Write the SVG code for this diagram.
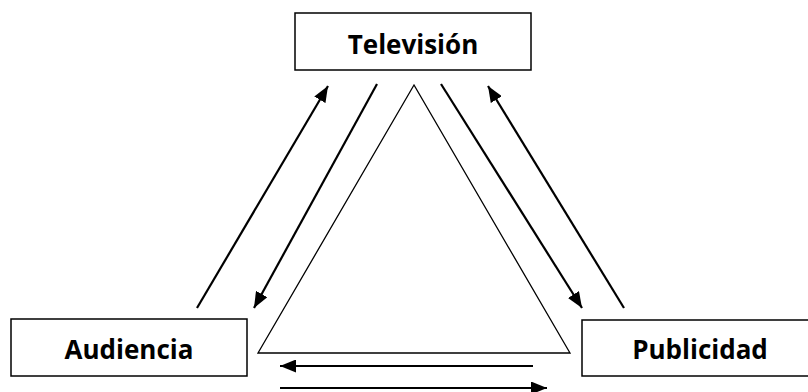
<svg xmlns="http://www.w3.org/2000/svg" width="808" height="392" viewBox="0 0 808 392">
  <style>
    .box { fill: #ffffff; stroke: #000000; stroke-width: 1.5; }
    .label { font-family: "Open Sans", "Liberation Sans", sans-serif; font-weight: bold; font-size: 26px; fill: #000000; text-anchor: middle; }
    .tri { fill: none; stroke: #000000; stroke-width: 1.3; stroke-linejoin: miter; }
    .arrow { fill: none; stroke: #000000; stroke-width: 2.2; marker-end: url(#head); }
  </style>
  <defs>
    <marker id="head" markerWidth="16" markerHeight="13" refX="16" refY="6.5" orient="auto" markerUnits="userSpaceOnUse">
      <path d="M0,0 L16,6.5 L0,13 Z" fill="#000000"/>
    </marker>
  </defs>
  <rect width="808" height="392" fill="#ffffff"/>
  <g id="triangle">
    <polygon class="tri" points="414,85 258,353 570,353"/>
  </g>
  <g id="connectors">
    <line class="arrow" x1="197" y1="308" x2="328" y2="86"/>
    <line class="arrow" x1="377" y1="84" x2="254" y2="308"/>
    <line class="arrow" x1="441" y1="84" x2="582" y2="308"/>
    <line class="arrow" x1="624" y1="308" x2="488" y2="86"/>
    <line class="arrow" x1="533" y1="366" x2="280" y2="366"/>
    <line class="arrow" x1="280" y1="388" x2="547" y2="388"/>
  </g>
  <g id="television">
    <rect class="box" x="295" y="13" width="236" height="57"/>
    <text class="label" x="413" y="54">Televisión</text>
  </g>
  <g id="audiencia">
    <rect class="box" x="11" y="319" width="236" height="57"/>
    <text class="label" x="129" y="359">Audiencia</text>
  </g>
  <g id="publicidad">
    <rect class="box" x="582" y="320" width="236" height="56"/>
    <text class="label" x="700" y="359">Publicidad</text>
  </g>
</svg>
